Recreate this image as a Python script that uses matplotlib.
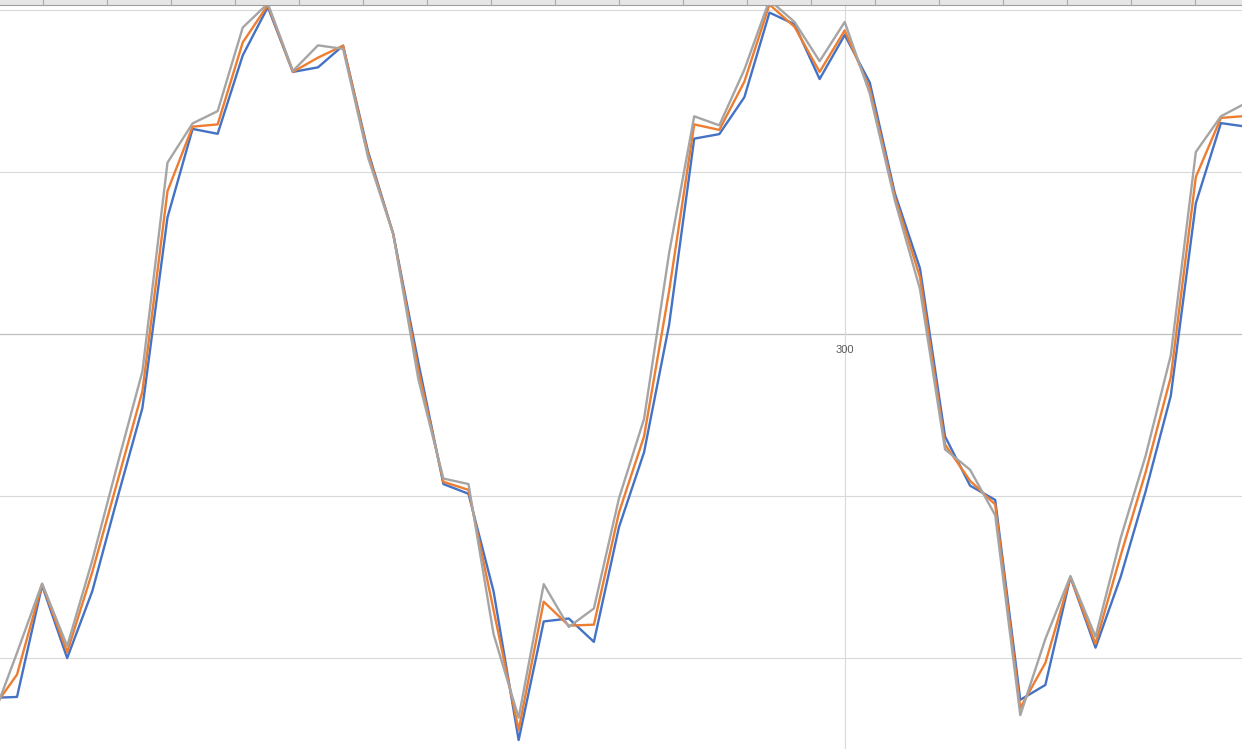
import matplotlib
matplotlib.use("Agg")
import matplotlib.pyplot as plt
from matplotlib.patches import Rectangle
from matplotlib.lines import Line2D

# ---- data -------------------------------------------------------------
x_values = list(range(266, 317))  # category positions (300 = labelled gridline)

series_blue = [-112.3, -112.0, -77.6, -100.0, -79.4, -50.7, -22.8, 36.0, 63.3, 61.8,
               86.0, 100.9, 80.9, 82.3, 89.0, 56.2, 30.9, -8.8, -46.3, -49.3,
               -79.4, -125.3, -88.7, -87.8, -95.0, -59.6, -36.5, 2.9, 60.3, 61.7,
               73.1, 99.2, 95.6, 78.7, 92.3, 77.6, 43.4, 20.3, -31.6, -46.8,
               -51.2, -112.9, -108.3, -75.0, -96.8, -75.0, -48.5, -19.1, 40.4, 65.1,
               64.0]
series_orange = [-116.0, -105.1, -77.2, -98.2, -73.5, -45.6, -17.7, 44.1, 64.0, 64.7,
                 90.0, 101.5, 80.9, 85.3, 89.0, 55.5, 30.9, -11.1, -45.6, -48.1,
                 -85.2, -122.2, -82.6, -90.0, -89.7, -55.1, -31.6, 13.3, 64.7, 63.0,
                 77.9, 101.7, 94.8, 80.9, 93.7, 75.7, 42.3, 17.6, -34.1, -45.3,
                 -52.6, -115.4, -101.5, -75.0, -95.6, -68.4, -42.6, -13.3, 48.5, 66.7,
                 67.3]
series_grey = [-119.1, -98.4, -77.0, -96.3, -69.9, -40.4, -11.5, 52.9, 65.0, 68.8,
               94.6, 102.0, 81.2, 89.1, 88.0, 54.4, 30.9, -13.9, -44.6, -46.3,
               -92.6, -118.4, -77.2, -90.4, -84.7, -50.7, -26.2, 25.0, 67.2, 64.4,
               81.6, 103.1, 96.3, 84.2, 96.3, 74.2, 41.2, 13.9, -35.6, -41.9,
               -55.9, -117.6, -94.1, -74.7, -93.4, -63.0, -37.5, -6.6, 56.2, 67.2,
               71.3]

y_gridlines = [-100, -50, 50, 100]
x_label_ticks = [300]
x_tick_labels = ["300"]

# ---- figure -----------------------------------------------------------
W, H = 1242, 749
fig = plt.figure(figsize=(W / 100, H / 100), dpi=100)
fig.patch.set_facecolor("white")
ax = fig.add_axes([0, 0, 1, 1])
ax.set_facecolor("white")

ax.set_xlim(266.322, 315.84)
ax.set_ylim(-128.07, 103.09)

for s in ax.spines.values():
    s.set_visible(False)

# horizontal gridlines
for gy in y_gridlines:
    ax.axhline(gy, color="#d9d9d9", lw=0.8, zorder=0)
# horizontal axis line at 0
ax.axhline(0, color="#bfbfbf", lw=0.9, zorder=0)
# vertical gridline
for gx in x_label_ticks:
    ax.axvline(gx, color="#d9d9d9", lw=0.8, zorder=0)

# category label just under the horizontal axis
ax.spines["bottom"].set_position(("data", 0))
ax.set_xticks(x_label_ticks)
ax.set_xticklabels(x_tick_labels, fontsize=8, color="#595959",
                   family=["Liberation Sans", "DejaVu Sans"])
ax.tick_params(axis="x", length=0, pad=8.2)
ax.set_yticks([])

lw = 1.7
ax.plot(x_values, series_blue, color="#4472C4", lw=lw, solid_joinstyle="round", zorder=3)
ax.plot(x_values, series_orange, color="#ED7D31", lw=lw, solid_joinstyle="round", zorder=4)
ax.plot(x_values, series_grey, color="#A5A5A5", lw=lw, solid_joinstyle="round", zorder=5)

# ---- spreadsheet header strip at top ------------------------------------
band_h = 4.5 / H
fig.add_artist(Rectangle((0, 1 - band_h), 1, band_h, transform=fig.transFigure,
                         facecolor="#e6e6e6", edgecolor="none", zorder=10))
fig.add_artist(Line2D([0, 1], [1 - band_h, 1 - band_h], transform=fig.transFigure,
                      color="#9e9e9e", lw=0.8, zorder=11))
sep_x = 42.5
while sep_x < W:
    fig.add_artist(Line2D([sep_x / W, sep_x / W], [1 - band_h, 1], transform=fig.transFigure,
                          color="#ababab", lw=0.8, zorder=11))
    sep_x += 64

fig.savefig("out.png", dpi=100)
